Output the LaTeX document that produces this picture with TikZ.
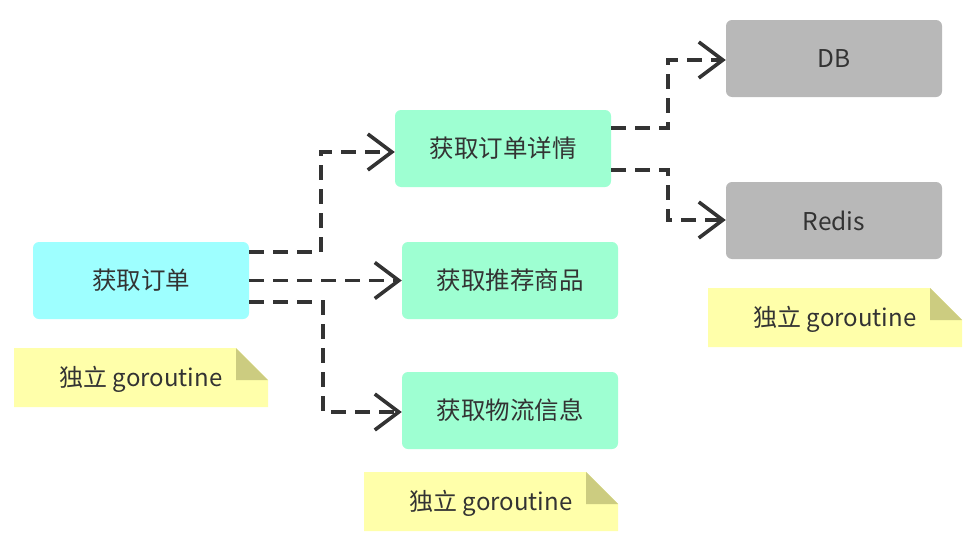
\documentclass[tikz,border=0pt]{standalone}
\usepackage{fontspec}
\setmainfont{Noto Sans CJK SC}
\usetikzlibrary{arrows.meta}
\definecolor{cyanbox}{HTML}{9EFFFF}
\definecolor{mintbox}{HTML}{9EFFD2}
\definecolor{graybox}{HTML}{B8B8B8}
\definecolor{noteyellow}{HTML}{FFFFAA}
\definecolor{notefold}{HTML}{CCCC80}
\definecolor{ink}{HTML}{333333}
\begin{document}
\begin{tikzpicture}[x=1pt,y=-1pt,
  box/.style={rounded corners=6pt, minimum width=216pt, minimum height=77pt, inner sep=0pt, text=ink, font=\fontsize{24.5}{27}\selectfont},
  link/.style={draw=ink, line width=3.6pt, dash pattern=on 15pt off 9pt, -{Straight Barb[length=24pt,width=36pt,line width=3.6pt]}},
  notetext/.style={text=ink, font=\fontsize{24}{27}\selectfont, inner sep=0pt}
]
\useasboundingbox (0,0) rectangle (978,546);
\fill[white] (0,0) rectangle (978,546);

% boxes
\node[box, fill=cyanbox] (order) at (141,280.5) {获取订单};
\node[box, fill=mintbox] (detail) at (503,148.5) {获取订单详情};
\node[box, fill=mintbox] (recom) at (510,280.5) {获取推荐商品};
\node[box, fill=mintbox] (logi) at (510,410.5) {获取物流信息};
\node[box, fill=graybox] (db) at (834,58.5) {DB};
\node[box, fill=graybox] (redis) at (834,220.5) {Redis};

% notes
\newcommand{\notebox}[2]{%
  \fill[noteyellow] (#1,#2) -- ++(222,0) -- ++(32,32) -- ++(0,27) -- ++(-254,0) -- cycle;
  \fill[notefold] (#1+222,#2) -- ++(0,32) -- ++(32,0) -- cycle;
}
\notebox{14}{348}
\node[notetext] (n1) at (141,379) {独立 goroutine};
\notebox{364}{472}
\node[notetext] (n2) at (491,503) {独立 goroutine};
\notebox{708}{288}
\node[notetext] (n3) at (835,319) {独立 goroutine};

% connectors
\coordinate (o1) at ([yshift=28.5pt]order.east);
\coordinate (o3) at ([yshift=-21.5pt]order.east);
\draw[link] (o1) -| (321,152) -- (detail.west |- 0,152);
\draw[link] (order.east) -- (recom.west);
\draw[link] (o3) -| (323,412) -- (logi.west |- 0,412);

\coordinate (d1) at ([yshift=20.5pt]detail.east);
\coordinate (d2) at ([yshift=-21.5pt]detail.east);
\draw[link] (d1) -| (668,60) -- (db.west |- 0,60);
\draw[link] (d2) -| (668,220) -- (redis.west |- 0,220);
\end{tikzpicture}
\end{document}
